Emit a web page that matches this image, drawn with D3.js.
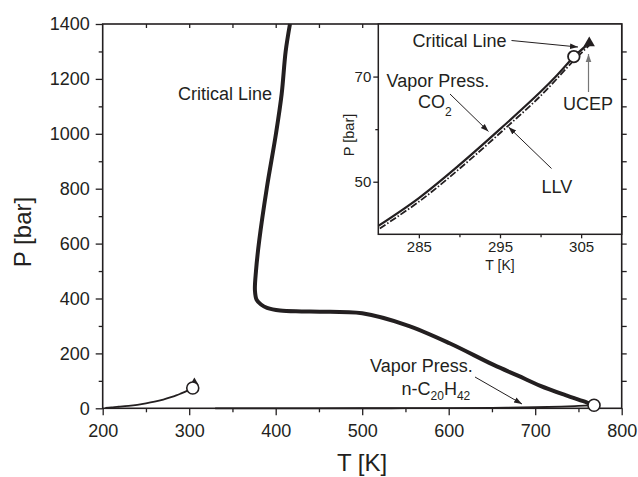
<!DOCTYPE html>
<html><head><meta charset="utf-8">
<script src="https://cdn.jsdelivr.net/npm/d3@7/dist/d3.min.js"></script>
<style>
body{margin:0;background:#fff;}
svg{display:block;font-family:"Liberation Sans",Arial,Helvetica,sans-serif;}
text{fill:#231f20;}
</style></head>
<body><svg id="c" width="638" height="477"></svg>
<script>
// ---------- data ----------
const critT = [416.5, 411.5, 406.9, 400.3, 389.6, 381, 377.2, 376, 378, 383, 390, 405, 430, 451, 500, 551, 601, 652, 680, 706, 735, 760, 768];
const critP = [1400, 1300, 1145, 1000, 800, 612, 500, 430, 395, 378, 366, 356, 353, 352, 346, 303, 237, 158, 119, 82, 48, 21, 11.1];
const co2T = [203, 210, 216.6, 220, 230, 240, 250, 260, 270, 280, 285, 290, 295, 300, 302, 304.1];
const co2P = [1.4, 3.0, 5.2, 6.0, 8.9, 12.8, 17.9, 24.2, 32.0, 41.6, 46.9, 53.2, 60.0, 67.1, 70.2, 73.8];
const eicT = [330, 400, 500, 550, 600, 650, 700, 730, 750, 768];
const eicP = [0, 0.01, 0.1, 0.3, 0.7, 1.7, 3.9, 6.2, 8.5, 11.1];
const llvT = [280, 285, 290, 295, 300, 304, 306];
const llvP = [41.3, 46.6, 52.9, 59.7, 66.8, 73.4, 76.4];
const critInsetT = [304.1, 306];
const critInsetP = [73.8, 76.4];
const co2Crit = [304.1, 73.8];
const eicCrit = [768, 11.1];
const ucep = [306, 76.4];
const mainXTicks = [200, 300, 400, 500, 600, 700, 800];
const mainYTicks = [0, 200, 400, 600, 800, 1000, 1200, 1400];
const insetXTicks = [285, 295, 305];
const insetYTicks = [50, 70];

const svg = d3.select("#c");
const ink = "#231f20";

// ---------- main scales ----------
const M = {l:102.7, r:621.7, t:24, b:408.3};
const x = d3.scaleLinear().domain([200, 800]).range([M.l, M.r]);
const y = d3.scaleLinear().domain([0, 1400]).range([M.b, M.t]);

svg.append("defs").append("marker").attr("id","ah").attr("viewBox","0 0 10 10")
  .attr("refX",10).attr("refY",5).attr("markerWidth",8).attr("markerHeight",8)
  .attr("markerUnits","userSpaceOnUse").attr("orient","auto")
  .append("path").attr("d","M0,1.5L10,5L0,8.5Z").attr("fill",ink);
svg.select("defs").append("marker").attr("id","ahg").attr("viewBox","0 0 10 10")
  .attr("refX",10).attr("refY",5).attr("markerWidth",8).attr("markerHeight",8)
  .attr("markerUnits","userSpaceOnUse").attr("orient","auto")
  .append("path").attr("d","M0,1.5L10,5L0,8.5Z").attr("fill","#777");

function styleAxis(g){ g.select(".domain").remove(); g.selectAll("line").attr("stroke",ink).attr("stroke-width",1.3); g.selectAll("text").attr("fill",ink); }

// main axes
const gxMaj = svg.append("g").attr("transform",`translate(0,${M.b})`)
  .call(d3.axisBottom(x).tickValues(mainXTicks).tickSize(7).tickPadding(9).tickFormat(d3.format("d")));
gxMaj.call(styleAxis).selectAll("text").attr("font-size",18);
svg.append("g").attr("transform",`translate(0,${M.b})`)
  .call(d3.axisBottom(x).tickValues(d3.range(250,800,100)).tickSize(4).tickFormat("")).call(styleAxis);
svg.append("g").attr("transform",`translate(0,${M.t})`)
  .call(d3.axisBottom(x).tickValues(d3.range(250,800,50)).tickSize(4).tickFormat("")).call(styleAxis);

const gyMaj = svg.append("g").attr("transform",`translate(${M.l},0)`)
  .call(d3.axisLeft(y).tickValues(mainYTicks).tickSize(7).tickPadding(6).tickFormat(d3.format("d")));
gyMaj.call(styleAxis).selectAll("text").attr("font-size",18);
svg.append("g").attr("transform",`translate(${M.l},0)`)
  .call(d3.axisLeft(y).tickValues(d3.range(100,1400,200)).tickSize(4).tickFormat("")).call(styleAxis);
svg.append("g").attr("transform",`translate(${M.r},0)`)
  .call(d3.axisRight(y).tickValues(d3.range(100,1400,100)).tickSize(5).tickFormat("")).call(styleAxis);

// main frame
svg.append("rect").attr("x",M.l).attr("y",M.t).attr("width",M.r-M.l).attr("height",M.b-M.t)
  .attr("fill","none").attr("stroke",ink).attr("stroke-width",1.6);

// axis titles
svg.append("text").attr("transform","translate(31,232) rotate(-90)").attr("text-anchor","middle")
  .attr("font-size",24).text("P [bar]");
svg.append("text").attr("x",362).attr("y",471).attr("text-anchor","middle").attr("font-size",24).text("T [K]");

// main curves
const lineMain = d3.line().x(d=>x(d[0])).y(d=>y(d[1])).curve(d3.curveCatmullRom.alpha(0.5));
svg.append("path").datum(critT.map((t,i)=>[t,critP[i]])).attr("d",lineMain)
  .attr("fill","none").attr("stroke",ink).attr("stroke-width",4).attr("stroke-linejoin","round");
svg.append("path").datum(co2T.map((t,i)=>[t,co2P[i]])).attr("d",lineMain)
  .attr("fill","none").attr("stroke",ink).attr("stroke-width",1.8);
svg.append("path").datum(eicT.map((t,i)=>[t,eicP[i]])).attr("d",lineMain)
  .attr("fill","none").attr("stroke",ink).attr("stroke-width",1.8);
// UCEP triangle (main, mostly hidden)
svg.append("path").attr("d",d3.symbol(d3.symbolTriangle,30)()).attr("transform",`translate(${x(ucep[0])},${y(ucep[1])-5})`).attr("fill",ink);
svg.append("circle").attr("cx",x(co2Crit[0])).attr("cy",y(co2Crit[1])).attr("r",6)
  .attr("fill","#fff").attr("stroke",ink).attr("stroke-width",1.6);
svg.append("circle").attr("cx",x(eicCrit[0])).attr("cy",y(eicCrit[1])).attr("r",6)
  .attr("fill","#fff").attr("stroke",ink).attr("stroke-width",1.6);

// main annotations
svg.append("text").attr("x",178).attr("y",100).attr("font-size",18).text("Critical Line");
svg.append("text").attr("x",370).attr("y",371.5).attr("font-size",18).text("Vapor Press.");
const nc = svg.append("text").attr("x",401.5).attr("y",395).attr("font-size",18);
nc.append("tspan").text("n-C");
nc.append("tspan").attr("font-size",12).attr("dy",5).text("20");
nc.append("tspan").attr("dy",-5).text("H");
nc.append("tspan").attr("font-size",12).attr("dy",5).text("42");
svg.append("line").attr("x1",475).attr("y1",377).attr("x2",522).attr("y2",404)
  .attr("stroke",ink).attr("stroke-width",1).attr("marker-end","url(#ah)");

// ---------- inset ----------
const I = {l:378.3, r:621.7, t:24, b:234.3};
const xi = d3.scaleLinear().domain([280, 310]).range([I.l, I.r]);
const yi = d3.scaleLinear().domain([40, 80]).range([I.b, I.t]);
svg.append("rect").attr("x",I.l).attr("y",I.t).attr("width",I.r-I.l).attr("height",I.b-I.t)
  .attr("fill","#fff").attr("stroke","none");

const gxi = svg.append("g").attr("transform",`translate(0,${I.b})`)
  .call(d3.axisBottom(xi).tickValues(insetXTicks).tickSize(4).tickPadding(3).tickFormat(d3.format("d")));
gxi.call(styleAxis).selectAll("text").attr("font-size",15);
svg.append("g").attr("transform",`translate(0,${I.b})`)
  .call(d3.axisBottom(xi).tickValues([290,300]).tickSize(3).tickFormat("")).call(styleAxis);
const gyi = svg.append("g").attr("transform",`translate(${I.l},0)`)
  .call(d3.axisLeft(yi).tickValues(insetYTicks).tickSize(5).tickPadding(2).tickFormat(d3.format("d")));
gyi.call(styleAxis).selectAll("text").attr("font-size",15);
svg.append("g").attr("transform",`translate(${I.l},0)`)
  .call(d3.axisLeft(yi).tickValues([60]).tickSize(3).tickFormat("")).call(styleAxis);

svg.append("rect").attr("x",I.l).attr("y",I.t).attr("width",I.r-I.l).attr("height",I.b-I.t)
  .attr("fill","none").attr("stroke",ink).attr("stroke-width",1.5);

svg.append("text").attr("x",500).attr("y",269.5).attr("text-anchor","middle").attr("font-size",14).text("T [K]");
svg.append("text").attr("transform","translate(354,135) rotate(-90)").attr("text-anchor","middle")
  .attr("font-size",14.5).text("P [bar]");

const lineIn = d3.line().x(d=>xi(d[0])).y(d=>yi(d[1])).curve(d3.curveCatmullRom.alpha(0.5));
svg.append("path").datum(llvT.map((t,i)=>[t,llvP[i]])).attr("d",lineIn)
  .attr("fill","none").attr("stroke",ink).attr("stroke-width",1.8).attr("stroke-dasharray","7,2,1.5,2")
  .attr("transform","translate(1.5,1)");
svg.append("path").datum(co2T.filter(t=>t>=280).map(t=>[t,co2P[co2T.indexOf(t)]])).attr("d",lineIn)
  .attr("fill","none").attr("stroke",ink).attr("stroke-width",2.2);
svg.append("path").datum(critInsetT.map((t,i)=>[t,critInsetP[i]])).attr("d",lineIn)
  .attr("fill","none").attr("stroke",ink).attr("stroke-width",2.5);
svg.append("path").attr("d",d3.symbol(d3.symbolTriangle,55)()).attr("transform",`translate(${xi(ucep[0])},${yi(ucep[1])})`).attr("fill",ink);
svg.append("circle").attr("cx",xi(co2Crit[0])).attr("cy",yi(co2Crit[1])).attr("r",5.8)
  .attr("fill","#fff").attr("stroke",ink).attr("stroke-width",1.8);

// inset annotations
svg.append("text").attr("x",412.5).attr("y",47).attr("font-size",18).text("Critical Line");
svg.append("line").attr("x1",511.5).attr("y1",40.5).attr("x2",578).attr("y2",47)
  .attr("stroke",ink).attr("stroke-width",1).attr("marker-end","url(#ah)");
svg.append("text").attr("x",386.5).attr("y",86.5).attr("font-size",18).text("Vapor Press.");
const co = svg.append("text").attr("x",418).attr("y",107.5).attr("font-size",18);
co.append("tspan").text("CO");
co.append("tspan").attr("font-size",12).attr("dy",8).text("2");
svg.append("line").attr("x1",450).attr("y1",94).attr("x2",488.5).attr("y2",131.5)
  .attr("stroke",ink).attr("stroke-width",1).attr("marker-end","url(#ah)");
svg.append("text").attr("x",541.5).attr("y",192.5).attr("font-size",18).text("LLV");
svg.append("line").attr("x1",551.5).attr("y1",168.5).attr("x2",508.5).attr("y2",127)
  .attr("stroke",ink).attr("stroke-width",1).attr("marker-end","url(#ah)");
svg.append("text").attr("x",563).attr("y",110).attr("font-size",18).text("UCEP");
svg.append("line").attr("x1",588.5).attr("y1",92).attr("x2",588.5).attr("y2",54)
  .attr("stroke","#777").attr("stroke-width",1.2).attr("marker-end","url(#ahg)");
</script></body></html>
